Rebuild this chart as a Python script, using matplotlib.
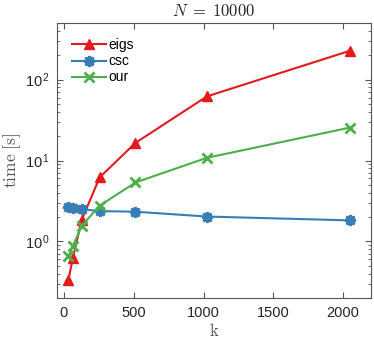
import matplotlib
matplotlib.use("Agg")
import matplotlib.pyplot as plt
from matplotlib.ticker import LogLocator, NullFormatter, FixedLocator

plt.rcParams['mathtext.fontset'] = 'cm'
plt.rcParams['font.family'] = ['Liberation Sans', 'DejaVu Sans']

k = [32, 64, 128, 256, 512, 1024, 2048]
eigs = [0.335, 0.63, 1.86, 6.2, 16.5, 62, 227]
csc = [2.67, 2.56, 2.50, 2.37, 2.33, 2.03, 1.82]
our = [0.66, 0.88, 1.57, 2.77, 5.35, 10.8, 25.5]
labels = ['eigs', 'csc', 'our']
colors = ['#e41a1c', '#377eb8', '#4daf4a']
xticks = [0, 500, 1000, 1500, 2000]
yticks = [1, 10, 100]
ytick_labels = [r'$\mathdefault{10^{\,0}}$', r'$\mathdefault{10^{\,1}}$', r'$\mathdefault{10^{\,2}}$']

fig = plt.figure(figsize=(3.74, 3.39), dpi=100)
ax = fig.add_axes([0.1524, 0.121, 0.8396, 0.811])

ax.plot(k, eigs, color=colors[0], lw=1.5, marker='^', ms=7.5, label=labels[0])
ax.plot(k, csc, color=colors[1], lw=1.5, marker=(8, 2, 0), ms=8, mew=2, label=labels[1])
ax.plot(k, our, color=colors[2], lw=1.5, marker='x', ms=6.5, mew=2, label=labels[2])

ax.set_yscale('log')
ax.set_xlim(-50, 2200)
ax.set_ylim(0.2, 500)
ax.set_xticks(xticks)
ax.yaxis.set_major_locator(FixedLocator(yticks))
ax.set_yticklabels(ytick_labels)
ax.yaxis.set_minor_locator(LogLocator(base=10, subs=range(2, 10), numticks=20))
ax.yaxis.set_minor_formatter(NullFormatter())

for s in ax.spines.values():
    s.set_color('#555555')
    s.set_linewidth(0.8)
ax.tick_params(which='both', direction='in', top=True, right=True, colors='#555555',
               labelcolor='#262626', labelsize=10.5)
ax.tick_params(which='major', length=4)
ax.tick_params(which='minor', length=2)
ax.tick_params(axis='x', pad=6)
ax.tick_params(axis='y', pad=5)

ax.set_title(r'$N\;=\;10000$', fontsize=12, pad=5, color='#262626')
ax.set_ylabel(r'$\mathrm{time\ [s]}$', fontsize=12.5, color='#555555', labelpad=1)
ax.set_xlabel(r'$\mathrm{k}$', fontsize=12, labelpad=1, color='#555555')

leg = ax.legend(loc='upper left', frameon=False, fontsize=10, handlelength=2.4,
                handletextpad=0.2, labelspacing=0.15, borderaxespad=0.7)

fig.savefig('out.png', dpi=100)
